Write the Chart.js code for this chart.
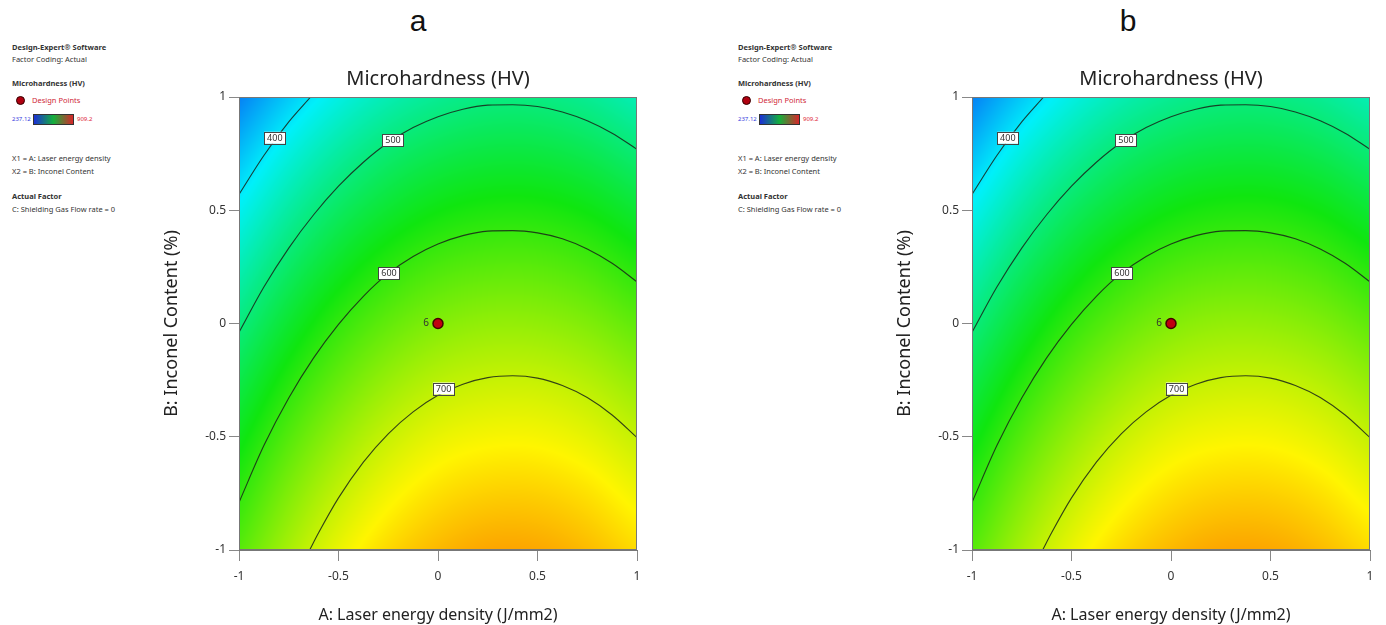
<!DOCTYPE html>
<html>
<head>
<meta charset="utf-8">
<title>Microhardness contour plots</title>
<script src="https://cdn.jsdelivr.net/npm/chart.js@4.4.1/dist/chart.umd.min.js"></script>
<style>
  body { margin: 0; background: #fff; }
  #page { position: relative; width: 1386px; height: 625px; overflow: hidden; font-family: "Noto Sans", sans-serif; }
  canvas { position: absolute; }
  .letter { position: absolute; top: 6px; font-family: "Liberation Sans", Arial, sans-serif; font-size: 30px; line-height: 30px; color: #111; transform: translateX(-50%); }
  .info { position: absolute; top: 0; width: 140px; height: 220px; font-size: 7.5px; color: #333; }
  .info span { position: absolute; white-space: nowrap; line-height: 10px; }
  .info .key { font-size: 6px; }
  .info .dot { position: absolute; width: 7px; height: 7px; border-radius: 50%; background: #b00010; border: 1px solid #300; }
  .info .bar { position: absolute; width: 39px; height: 9px; border: 1px solid #333;
               background: linear-gradient(to right, #1c2fd6, #14b03c 50%, #d8262a); }
</style>
</head>
<body>
<div id="page">
  <div class="letter" style="left:418px">a</div>
  <div class="letter" style="left:1128px">b</div>
  <div class="info" id="infoA" style="left:12px"></div>
  <div class="info" id="infoB" style="left:738px"></div>
  <canvas id="chartA" width="510" height="575" style="left:150px;top:50px"></canvas>
  <canvas id="chartB" width="500" height="575" style="left:883px;top:50px"></canvas>
</div>
<script>
// response surface: rows B = 1 ... -1, columns A = -1 ... 1
const gridA = [-1, -0.75, -0.5, -0.25, 0, 0.25, 0.5, 0.75, 1];
const gridB = [1, 0.75, 0.5, 0.25, 0, -0.25, -0.5, -0.75, -1];
const hardness = [
    [316, 374, 421, 456, 479, 491, 491, 479, 455],
    [365, 424, 470, 505, 527, 538, 538, 526, 502],
    [411, 469, 515, 549, 572, 583, 583, 571, 547],
    [454, 511, 557, 592, 615, 625, 625, 613, 589],
    [493, 550, 597, 631, 654, 665, 664, 652, 629],
    [530, 587, 633, 668, 691, 701, 701, 689, 666],
    [564, 621, 667, 702, 725, 735, 735, 723, 700],
    [595, 652, 698, 733, 756, 767, 767, 755, 731],
    [623, 680, 727, 762, 785, 798, 797, 783, 760]
];

// colour key (237.12 blue ... 909.2 red)
const keyValues = [237.12, 405.14, 573.16, 741.18, 909.2];
const keyColours = [[10, 30, 240], [0, 240, 250], [15, 230, 15], [255, 245, 0], [245, 10, 0]];

// contour lines
const contourLevels = ['400', '500', '600', '700'];
const c400A = [-1, -0.875, -0.75, -0.64];
const c400B = [0.57, 0.742, 0.89, 1.0];
const c500A = [-1, -0.875, -0.75, -0.625, -0.5, -0.375, -0.25, -0.125, 0, 0.125, 0.25, 0.375, 0.5, 0.625, 0.75, 0.875, 1];
const c500B = [-0.039, 0.161, 0.333, 0.480, 0.606, 0.712, 0.799, 0.865, 0.913, 0.946, 0.964, 0.966, 0.958, 0.934, 0.895, 0.840, 0.769];
const c600A = [-1, -0.875, -0.75, -0.625, -0.5, -0.375, -0.25, -0.125, 0, 0.125, 0.25, 0.375, 0.5, 0.625, 0.75, 0.875, 1];
const c600B = [-0.790, -0.539, -0.329, -0.152, -0.004, 0.120, 0.221, 0.296, 0.351, 0.388, 0.408, 0.410, 0.400, 0.374, 0.329, 0.266, 0.184];
const c700A = [-0.645, -0.6, -0.5, -0.375, -0.25, -0.125, 0, 0.125, 0.25, 0.375, 0.5, 0.625, 0.75, 0.875, 1];
const c700B = [-1.0, -0.924, -0.770, -0.612, -0.487, -0.390, -0.317, -0.268, -0.239, -0.231, -0.241, -0.274, -0.327, -0.404, -0.504];

// contour label boxes
const labelA = [-0.82, -0.226, -0.246, 0.028];
const labelB = [0.82, 0.81, 0.223, -0.287];

// design point (centre point, 6 runs)
const designA = [0];
const designB = [0];
const designRuns = ['6'];

const tickValues = [-1, -0.5, 0, 0.5, 1];

const fontFamily = '"Noto Sans", sans-serif';

function toPoints(xs, ys) {
    return xs.map(function (a, i) { return { x: a, y: ys[i] }; });
}

function locate(arr, v) {
    for (let i = 0; i < arr.length - 1; i++) {
        const lo = arr[i], hi = arr[i + 1];
        const inside = hi > lo ? v <= hi : v >= hi;
        if (inside || i === arr.length - 2) {
            let t = (v - lo) / (hi - lo);
            t = Math.max(0, Math.min(1, t));
            return [i, t];
        }
    }
}

// Catmull-Rom through four neighbours, used only for smooth shading
function spline(p0, p1, p2, p3, t) {
    return 0.5 * (2 * p1 + (p2 - p0) * t + (2 * p0 - 5 * p1 + 4 * p2 - p3) * t * t +
        (3 * p1 - p0 - 3 * p2 + p3) * t * t * t);
}

function pick(arr, i) {
    const n = arr.length;
    if (i < 0) return 2 * arr[0] - arr[1];
    if (i >= n) return 2 * arr[n - 1] - arr[n - 2];
    return arr[i];
}

function valueAt(a, b) {
    const [c, tx] = locate(gridA, a);
    const [r, ty] = locate(gridB, b);
    const col = [];
    for (let k = -1; k <= 2; k++) {
        let row;
        if (k + r < 0) row = hardness[0].map(function (v, m) { return 2 * v - hardness[1][m]; });
        else if (k + r >= hardness.length) row = hardness[hardness.length - 1].map(function (v, m) { return 2 * v - hardness[hardness.length - 2][m]; });
        else row = hardness[r + k];
        col.push(spline(pick(row, c - 1), pick(row, c), pick(row, c + 1), pick(row, c + 2), tx));
    }
    return spline(col[0], col[1], col[2], col[3], ty);
}

function colourAt(v) {
    if (v <= keyValues[0]) return keyColours[0];
    for (let i = 1; i < keyValues.length; i++) {
        if (v <= keyValues[i]) {
            const t = (v - keyValues[i - 1]) / (keyValues[i] - keyValues[i - 1]);
            const p = keyColours[i - 1], q = keyColours[i];
            return [p[0] + (q[0] - p[0]) * t, p[1] + (q[1] - p[1]) * t, p[2] + (q[2] - p[2]) * t];
        }
    }
    return keyColours[keyColours.length - 1];
}

// shaded response surface under the contour lines
const surfacePlugin = {
    id: 'surface',
    beforeDatasetsDraw(chart) {
        const area = chart.chartArea;
        const sx = chart.scales.x, sy = chart.scales.y;
        const w = Math.round(area.right - area.left);
        const h = Math.round(area.bottom - area.top);
        const off = document.createElement('canvas');
        off.width = w;
        off.height = h;
        const octx = off.getContext('2d');
        const img = octx.createImageData(w, h);
        for (let j = 0; j < h; j++) {
            const b = sy.getValueForPixel(area.top + j + 0.5);
            for (let i = 0; i < w; i++) {
                const a = sx.getValueForPixel(area.left + i + 0.5);
                const col = colourAt(valueAt(a, b));
                const k = (j * w + i) * 4;
                img.data[k] = col[0];
                img.data[k + 1] = col[1];
                img.data[k + 2] = col[2];
                img.data[k + 3] = 255;
            }
        }
        octx.putImageData(img, 0, 0);
        chart.ctx.drawImage(off, area.left, area.top, area.right - area.left, area.bottom - area.top);
    }
};

// frame, contour labels, run count and plot title
const decorPlugin = {
    id: 'decor',
    afterDatasetsDraw(chart) {
        const ctx = chart.ctx;
        const area = chart.chartArea;
        const sx = chart.scales.x, sy = chart.scales.y;
        ctx.save();
        ctx.font = '9px ' + fontFamily;
        ctx.textAlign = 'center';
        ctx.textBaseline = 'middle';
        contourLevels.forEach(function (txt, i) {
            const px = sx.getPixelForValue(labelA[i]);
            const py = sy.getPixelForValue(labelB[i]);
            const bw = ctx.measureText(txt).width + 6;
            ctx.fillStyle = '#fff';
            ctx.fillRect(px - bw / 2, py - 6, bw, 12);
            ctx.strokeStyle = '#444';
            ctx.lineWidth = 1;
            ctx.strokeRect(Math.round(px - bw / 2) + 0.5, Math.round(py - 6) + 0.5, Math.round(bw), 12);
            ctx.fillStyle = '#333';
            ctx.fillText(txt, px, py + 0.5);
        });
        ctx.font = '10px ' + fontFamily;
        ctx.fillStyle = '#333';
        designRuns.forEach(function (txt, i) {
            ctx.fillText(txt, sx.getPixelForValue(designA[i]) - 12, sy.getPixelForValue(designB[i]));
        });
        ctx.strokeStyle = '#777';
        ctx.lineWidth = 1;
        ctx.strokeRect(Math.round(area.left) + 0.5, Math.round(area.top) + 0.5,
            Math.round(area.right - area.left) - 1, Math.round(area.bottom - area.top) - 1);
        ctx.restore();
    },
    afterDraw(chart) {
        const ctx = chart.ctx;
        const area = chart.chartArea;
        ctx.save();
        ctx.font = '20px ' + fontFamily;
        ctx.fillStyle = '#222';
        ctx.textAlign = 'center';
        ctx.textBaseline = 'middle';
        ctx.fillText('Microhardness (HV)', (area.left + area.right) / 2, 29);
        ctx.restore();
    }
};

function axisOptions(titleText, titleSize, titlePad, fitFn) {
    return {
        type: 'linear',
        min: -1,
        max: 1,
        afterBuildTicks: function (scale) {
            scale.ticks = tickValues.map(function (v) { return { value: v }; });
        },
        ticks: {
            color: '#333',
            font: { family: fontFamily, size: 12 },
            padding: 3,
            callback: function (value) { return String(value); }
        },
        grid: { drawOnChartArea: false, drawTicks: true, tickLength: 10, color: '#888' },
        border: { display: true, color: '#777' },
        title: { display: true, text: titleText, color: '#222', font: { family: fontFamily, size: titleSize }, padding: titlePad },
        afterFit: fitFn
    };
}

function buildChart(id, padRight) {
    const datasets = [{
        label: 'Design Points',
        data: toPoints(designA, designB),
        pointRadius: 5,
        pointBackgroundColor: '#c00010',
        pointBorderColor: '#400',
        pointBorderWidth: 1.5
    }];
    const lines = [[c400A, c400B], [c500A, c500B], [c600A, c600B], [c700A, c700B]];
    lines.forEach(function (ln, i) {
        datasets.push({
            label: contourLevels[i],
            data: toPoints(ln[0], ln[1]),
            showLine: true,
            borderColor: 'rgba(25, 35, 25, 0.85)',
            borderWidth: 1.1,
            pointRadius: 0,
            cubicInterpolationMode: 'monotone',
            fill: false
        });
    });

    const xAxis = axisOptions('A: Laser energy density (J/mm2)', 16, { top: 0, bottom: 0 },
        function (s) { s.height = 75; });
    xAxis.ticks.padding = 8;
    xAxis.grid.tickLength = 11;
    const yAxis = axisOptions('B: Inconel Content (%)', 18, { top: 11, bottom: 0 },
        function (s) { s.width = 89; });

    return new Chart(document.getElementById(id), {
        type: 'scatter',
        data: { datasets: datasets },
        options: {
            responsive: false,
            animation: false,
            layout: { padding: { top: 47, right: padRight, left: 0, bottom: 0 } },
            plugins: {
                legend: { display: false },
                tooltip: { enabled: false }
            },
            scales: { x: xAxis, y: yAxis }
        },
        plugins: [surfacePlugin, decorPlugin]
    });
}

// side legend (same for both panels)
const infoLines = [
    { text: 'Design-Expert\u00AE Software', y: 47, bold: true },
    { text: 'Factor Coding: Actual', y: 59 },
    { text: 'Microhardness (HV)', y: 83, bold: true },
    { text: 'X1 = A: Laser energy density', y: 158 },
    { text: 'X2 = B: Inconel Content', y: 171 },
    { text: 'Actual Factor', y: 196, bold: true },
    { text: 'C: Shielding Gas Flow rate = 0', y: 209 }
];

function buildInfo(el) {
    infoLines.forEach(function (l) {
        const s = document.createElement('span');
        s.textContent = l.text;
        s.style.top = (l.y - 5) + 'px';
        s.style.left = '0px';
        if (l.bold) s.style.fontWeight = 'bold';
        el.appendChild(s);
    });
    const dot = document.createElement('div');
    dot.className = 'dot';
    dot.style.left = '4px';
    dot.style.top = '96px';
    el.appendChild(dot);
    const dp = document.createElement('span');
    dp.textContent = 'Design Points';
    dp.style.cssText = 'left:20px;top:95px;color:#d02838';
    el.appendChild(dp);
    const lo = document.createElement('span');
    lo.className = 'key';
    lo.textContent = '237.12';
    lo.style.cssText = 'left:0px;top:114px;color:#3844e0';
    el.appendChild(lo);
    const bar = document.createElement('div');
    bar.className = 'bar';
    bar.style.left = '21px';
    bar.style.top = '114px';
    el.appendChild(bar);
    const hi = document.createElement('span');
    hi.className = 'key';
    hi.textContent = '909.2';
    hi.style.cssText = 'left:65px;top:114px;color:#e02838';
    el.appendChild(hi);
}

buildInfo(document.getElementById('infoA'));
buildInfo(document.getElementById('infoB'));
buildChart('chartA', 23);
buildChart('chartB', 13);
</script>
</body>
</html>
